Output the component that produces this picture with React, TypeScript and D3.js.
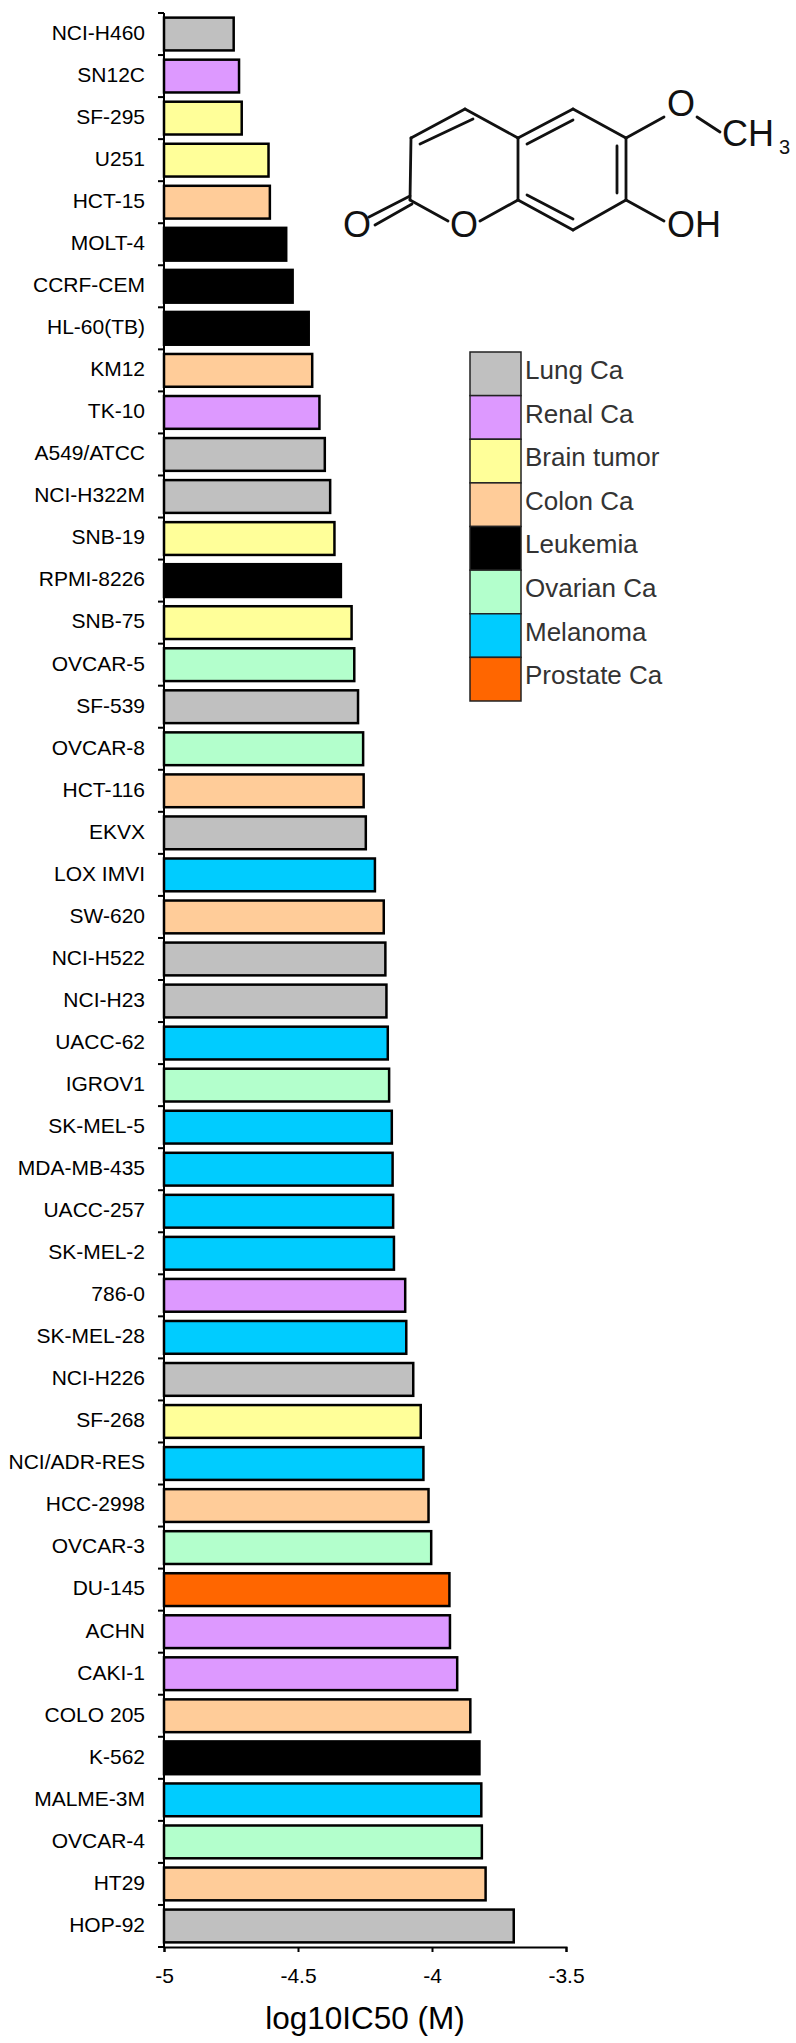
import React, { useRef, useEffect } from 'react';
import * as d3 from 'd3';

// constants
const width = 796;
const height = 2043;
const margin = { top: 13, right: 230, bottom: 96, left: 164 };
const font = '"Liberation Sans", Arial, sans-serif';

const cellLines = ['NCI-H460', 'SN12C', 'SF-295', 'U251', 'HCT-15', 'MOLT-4', 'CCRF-CEM', 'HL-60(TB)', 'KM12', 'TK-10', 'A549/ATCC', 'NCI-H322M', 'SNB-19', 'RPMI-8226', 'SNB-75', 'OVCAR-5', 'SF-539', 'OVCAR-8', 'HCT-116', 'EKVX', 'LOX IMVI', 'SW-620', 'NCI-H522', 'NCI-H23', 'UACC-62', 'IGROV1', 'SK-MEL-5', 'MDA-MB-435', 'UACC-257', 'SK-MEL-2', '786-0', 'SK-MEL-28', 'NCI-H226', 'SF-268', 'NCI/ADR-RES', 'HCC-2998', 'OVCAR-3', 'DU-145', 'ACHN', 'CAKI-1', 'COLO 205', 'K-562', 'MALME-3M', 'OVCAR-4', 'HT29', 'HOP-92'];
const logIC50 = [-4.74, -4.72, -4.71, -4.61, -4.605, -4.544, -4.52, -4.46, -4.447, -4.42, -4.40, -4.38, -4.364, -4.34, -4.30, -4.29, -4.276, -4.257, -4.255, -4.247, -4.213, -4.18, -4.174, -4.17, -4.165, -4.16, -4.15, -4.147, -4.145, -4.142, -4.10, -4.096, -4.07, -4.042, -4.032, -4.013, -4.003, -3.935, -3.933, -3.906, -3.857, -3.823, -3.816, -3.814, -3.80, -3.695];
const cancerTypes = ['Lung Ca', 'Renal Ca', 'Brain tumor', 'Colon Ca', 'Leukemia', 'Ovarian Ca', 'Melanoma', 'Prostate Ca'];
const typeColours = ['#c0c0c0', '#dd99ff', '#ffff99', '#ffcc99', '#000000', '#b3ffcc', '#00ccff', '#ff6600'];
const cellTypes = [0, 1, 2, 2, 3, 4, 4, 4, 3, 1, 0, 0, 2, 4, 2, 5, 0, 5, 3, 0, 6, 3, 0, 0, 6, 5, 6, 6, 6, 6, 1, 6, 0, 2, 6, 3, 5, 7, 1, 1, 3, 4, 6, 5, 3, 0];
const xTicks = [-5, -4.5, -4, -3.5];

// structure drawing of the compound, top right
const bonds = [
  [465, 109, 411, 138], [473, 119, 420, 144], [411, 138, 410, 200], [410, 200, 448, 221],
  [480, 221, 518, 200], [518, 200, 518, 138], [518, 138, 465, 109], [518, 138, 573, 109],
  [527, 144, 573, 120], [573, 109, 626, 138], [626, 138, 626, 200], [617, 146, 617, 193],
  [626, 200, 573, 230], [573, 230, 518, 200], [573, 219, 527, 195], [626, 138, 664, 117],
  [697, 117, 720, 132], [626, 200, 664, 221], [410, 196, 369, 217], [412, 204, 375, 225],
];
const atoms = [
  { label: 'O', x: 343, y: 237, size: 36 },
  { label: 'O', x: 450, y: 237, size: 36 },
  { label: 'OH', x: 667, y: 237, size: 36 },
  { label: 'O', x: 667, y: 116, size: 36 },
  { label: 'CH', x: 722, y: 146, size: 36 },
  { label: '3', x: 779, y: 154, size: 20 },
];

const legendBox = { x: 470, y: 352, width: 51, height: 349 };

const App = () => {
  const gRef = useRef<SVGGElement>(null);
  const xAxisRef = useRef<SVGGElement>(null);
  const yAxisRef = useRef<SVGGElement>(null);

  const innerHeight = height - margin.top - margin.bottom;

  // define your scales
  const xScale = d3.scaleLinear().domain([-5, -3.5]).range([0, 402]);
  const yScale = d3.scaleBand().domain(cellLines).range([0, innerHeight]).paddingInner(0.22).paddingOuter(0.11);
  const legendScale = d3.scaleBand().domain(cancerTypes).range([0, legendBox.height]);

  useEffect(() => {
    const g = d3.select(gRef.current);

    g.selectAll('.bar')
      .data(logIC50)
      .join('rect')
      .classed('bar', true)
      .attr('x', 0)
      .attr('y', (d, i) => yScale(cellLines[i]) as number)
      .attr('width', d => xScale(d))
      .attr('height', yScale.bandwidth())
      .style('fill', (d, i) => typeColours[cellTypes[i]])
      .style('stroke', '#000')
      .style('stroke-width', 2.5);

    // x axis along the bottom
    d3.select(xAxisRef.current)
      .attr('transform', `translate(0,${innerHeight})`)
      .call(d3.axisBottom(xScale).tickValues(xTicks).tickFormat(d => String(d)).tickSize(5).tickPadding(16) as any)
      .call(a => a.selectAll('.domain').attr('stroke-width', 2))
      .call(a => a.selectAll('.tick line').attr('stroke-width', 2))
      .call(a => a.selectAll('text').attr('font-size', 21).attr('font-family', font).attr('fill', '#000'));

    // y axis with one tick between each pair of bars
    const yAxis = d3.select(yAxisRef.current);
    yAxis.selectAll('line.sep')
      .data(d3.range(cellLines.length + 1))
      .join('line')
      .classed('sep', true)
      .attr('x1', -6)
      .attr('x2', 0)
      .attr('y1', d => d * yScale.step())
      .attr('y2', d => d * yScale.step())
      .attr('stroke', '#000')
      .attr('stroke-width', 2);
    yAxis.selectAll('line.spine')
      .data([0])
      .join('line')
      .classed('spine', true)
      .attr('y1', 0)
      .attr('y2', innerHeight)
      .attr('stroke', '#000')
      .attr('stroke-width', 2);
    yAxis.selectAll('text')
      .data(cellLines)
      .join('text')
      .attr('x', -19)
      .attr('y', d => (yScale(d) as number) + yScale.bandwidth() / 2 - 1.5)
      .attr('dy', '0.35em')
      .attr('text-anchor', 'end')
      .attr('font-size', 21)
      .attr('font-family', font)
      .text(d => d);
  }, []);

  return (
    <svg width={width} height={height} style={{ position: 'absolute', left: 0, top: 0, background: '#fff' }}>
      <g transform={`translate(${margin.left},${margin.top})`}>
        <g ref={gRef} />
        <g ref={xAxisRef} />
        <g ref={yAxisRef} />
      </g>
      <text x={365} y={2029} textAnchor="middle" fontSize={31.5} fontFamily={font}>log10IC50 (M)</text>

      {/* legend */}
      <g transform={`translate(${legendBox.x},${legendBox.y})`}>
        {cancerTypes.map((t, i) => (
          <g key={t} transform={`translate(0,${legendScale(t)})`}>
            <rect width={legendBox.width} height={legendScale.bandwidth()} fill={typeColours[i]} stroke="#222" strokeWidth={1.5} />
            <text x={legendBox.width + 4} y={legendScale.bandwidth() / 2 - 4} dy="0.35em" fontSize={26} fontFamily={font} fill="#333">{t}</text>
          </g>
        ))}
      </g>

      {/* compound */}
      <g stroke="#111" strokeWidth={2.8} strokeLinecap="round">
        {bonds.map((b, i) => <line key={i} x1={b[0]} y1={b[1]} x2={b[2]} y2={b[3]} />)}
      </g>
      {atoms.map((a, i) => (
        <text key={i} x={a.x} y={a.y} fontSize={a.size} fontFamily={font} fill="#111">{a.label}</text>
      ))}
    </svg>
  );
};

export default App;
